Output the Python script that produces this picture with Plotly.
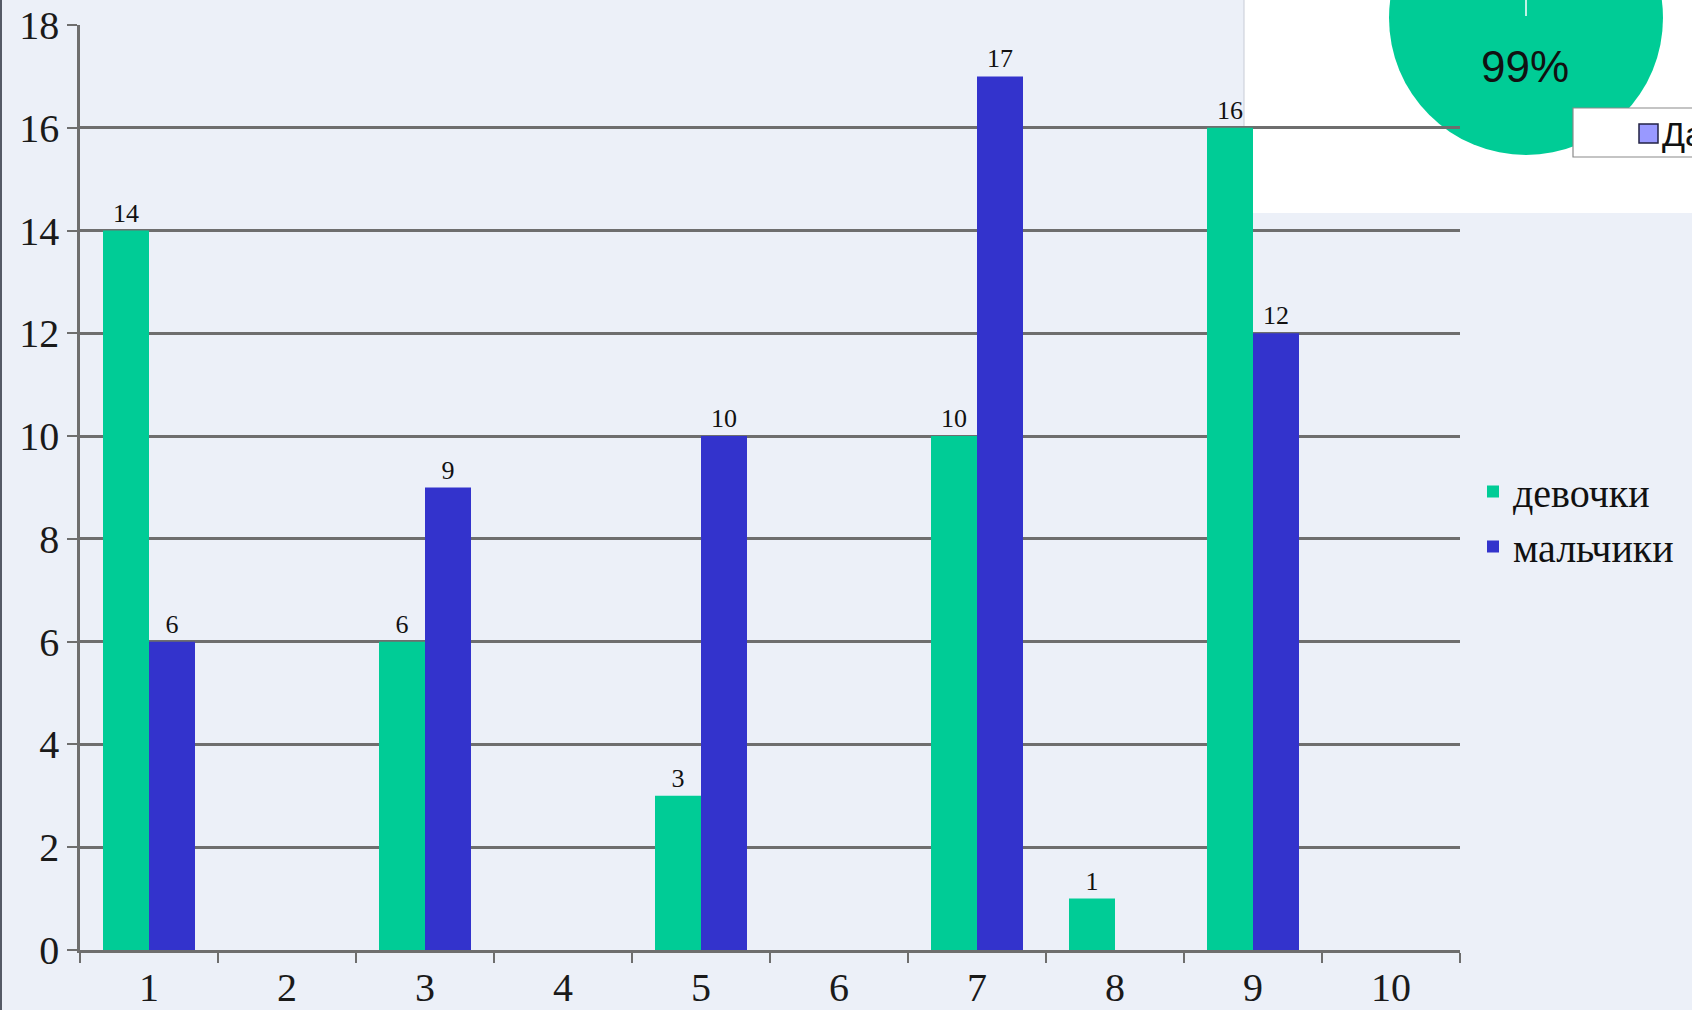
import plotly.graph_objects as go

# ---- data ----
categories = ["1", "2", "3", "4", "5", "6", "7", "8", "9", "10"]
girls = [14, 0, 6, 0, 3, 0, 10, 1, 16, 0]
boys = [6, 0, 9, 0, 10, 0, 17, 0, 12, 0]
series_names = ["девочки", "мальчики"]
y_ticks = [0, 2, 4, 6, 8, 10, 12, 14, 16, 18]
pie_label = "99%"
pie_legend_label = "Да"

# ---- geometry helpers (figure pixels -> paper coords) ----
W, H = 1692, 1010
L, R, T, B = 80, 232, 25, 60
PW, PH = W - L - R, H - T - B


def px(x):
    return (x - L) / PW


def py(y):
    return (H - B - y) / PH


GREEN = "#00CC96"
BLUE = "#3333CC"
BG = "#ECF0F8"
GRID = "#6E6E6E"
SERIF = "Liberation Serif, Times New Roman, serif"
SANS = "Liberation Sans, Arial, sans-serif"

fig = go.Figure()
for name, vals, col in [(series_names[0], girls, GREEN), (series_names[1], boys, BLUE)]:
    fig.add_trace(go.Bar(
        x=categories, y=vals, name=name,
        marker=dict(color=col, line=dict(width=0)),
        text=[str(v) if v > 0 else "" for v in vals],
        textposition="outside",
        textfont=dict(family=SERIF, size=26, color="#111111"),
        cliponaxis=False,
    ))

shapes = [
    # white panel from overlapping slide (top right)
    dict(type="rect", xref="paper", yref="paper", layer="below",
         x0=px(1244), x1=px(W + 5), y0=py(213), y1=py(-5),
         fillcolor="white", line=dict(width=0)),
    dict(type="line", xref="paper", yref="paper", layer="below",
         x0=px(1244), x1=px(1244), y0=py(213), y1=py(0),
         line=dict(color="#C8CCD6", width=1)),
    # partial pie circle
    dict(type="circle", xref="paper", yref="paper", layer="below",
         x0=px(1389), x1=px(1663), y0=py(155), y1=py(-119),
         fillcolor=GREEN, line=dict(width=0)),
    dict(type="line", xref="paper", yref="paper", layer="below",
         x0=px(1526), x1=px(1526), y0=py(16), y1=py(0),
         line=dict(color="white", width=1.5)),
    # fragment of the pie legend box
    dict(type="rect", xref="paper", yref="paper", layer="above",
         x0=px(1573), x1=px(W + 5), y0=py(157), y1=py(108),
         fillcolor="white", line=dict(color="#8A8A8A", width=1.2)),
    dict(type="rect", xref="paper", yref="paper", layer="above",
         x0=px(1639), x1=px(1658), y0=py(143), y1=py(124),
         fillcolor="#9999FF", line=dict(color="#222244", width=1.5)),
    # left dark edge
    dict(type="line", xref="paper", yref="paper", layer="above",
         x0=px(1), x1=px(1), y0=py(0), y1=py(H),
         line=dict(color="#555A66", width=2)),
]

annotations = [
    dict(text=pie_label, xref="paper", yref="paper", x=px(1525), y=py(67),
         xanchor="center", yanchor="middle", showarrow=False,
         font=dict(family=SANS, size=44, color="#111111")),
    dict(text=pie_legend_label, xref="paper", yref="paper", x=px(1660), y=py(134),
         xanchor="left", yanchor="middle", showarrow=False,
         font=dict(family=SANS, size=34, color="#111111")),
]

fig.update_layout(
    width=W, height=H,
    margin=dict(l=L, r=R, t=T, b=B, autoexpand=False),
    paper_bgcolor=BG, plot_bgcolor="rgba(0,0,0,0)",
    barmode="group", bargap=1/3, bargroupgap=0,
    showlegend=True,
    legend=dict(x=px(1473), y=py(459), xanchor="left", yanchor="top",
                bgcolor="rgba(0,0,0,0)", borderwidth=0,
                font=dict(family=SERIF, size=40, color="#111111"),
                tracegroupgap=0, itemwidth=30),
    shapes=shapes, annotations=annotations,
    xaxis=dict(type="category", range=[-0.5, 9.5], showgrid=False,
               showline=True, linecolor=GRID, linewidth=2.5,
               ticks="outside", tickson="boundaries", ticklen=10,
               tickwidth=2, tickcolor=GRID,
               tickfont=dict(family=SERIF, size=40, color="#1A1A1A"),
               fixedrange=True),
    yaxis=dict(range=[0, 18], tickvals=y_ticks, showgrid=True,
               gridcolor=GRID, gridwidth=2.5, zeroline=False,
               showline=True, linecolor=GRID, linewidth=2.5,
               ticks="outside", ticklen=10, tickwidth=2, tickcolor=GRID,
               tickfont=dict(family=SERIF, size=40, color="#1A1A1A"),
               fixedrange=True),
)

fig.write_html(
    "out.html",
    config={"displayModeBar": False},
    post_script="document.body.style.margin='0';document.body.style.padding='0';"
                "document.body.style.overflow='hidden';"
                "document.body.style.background='" + BG + "';",
)
